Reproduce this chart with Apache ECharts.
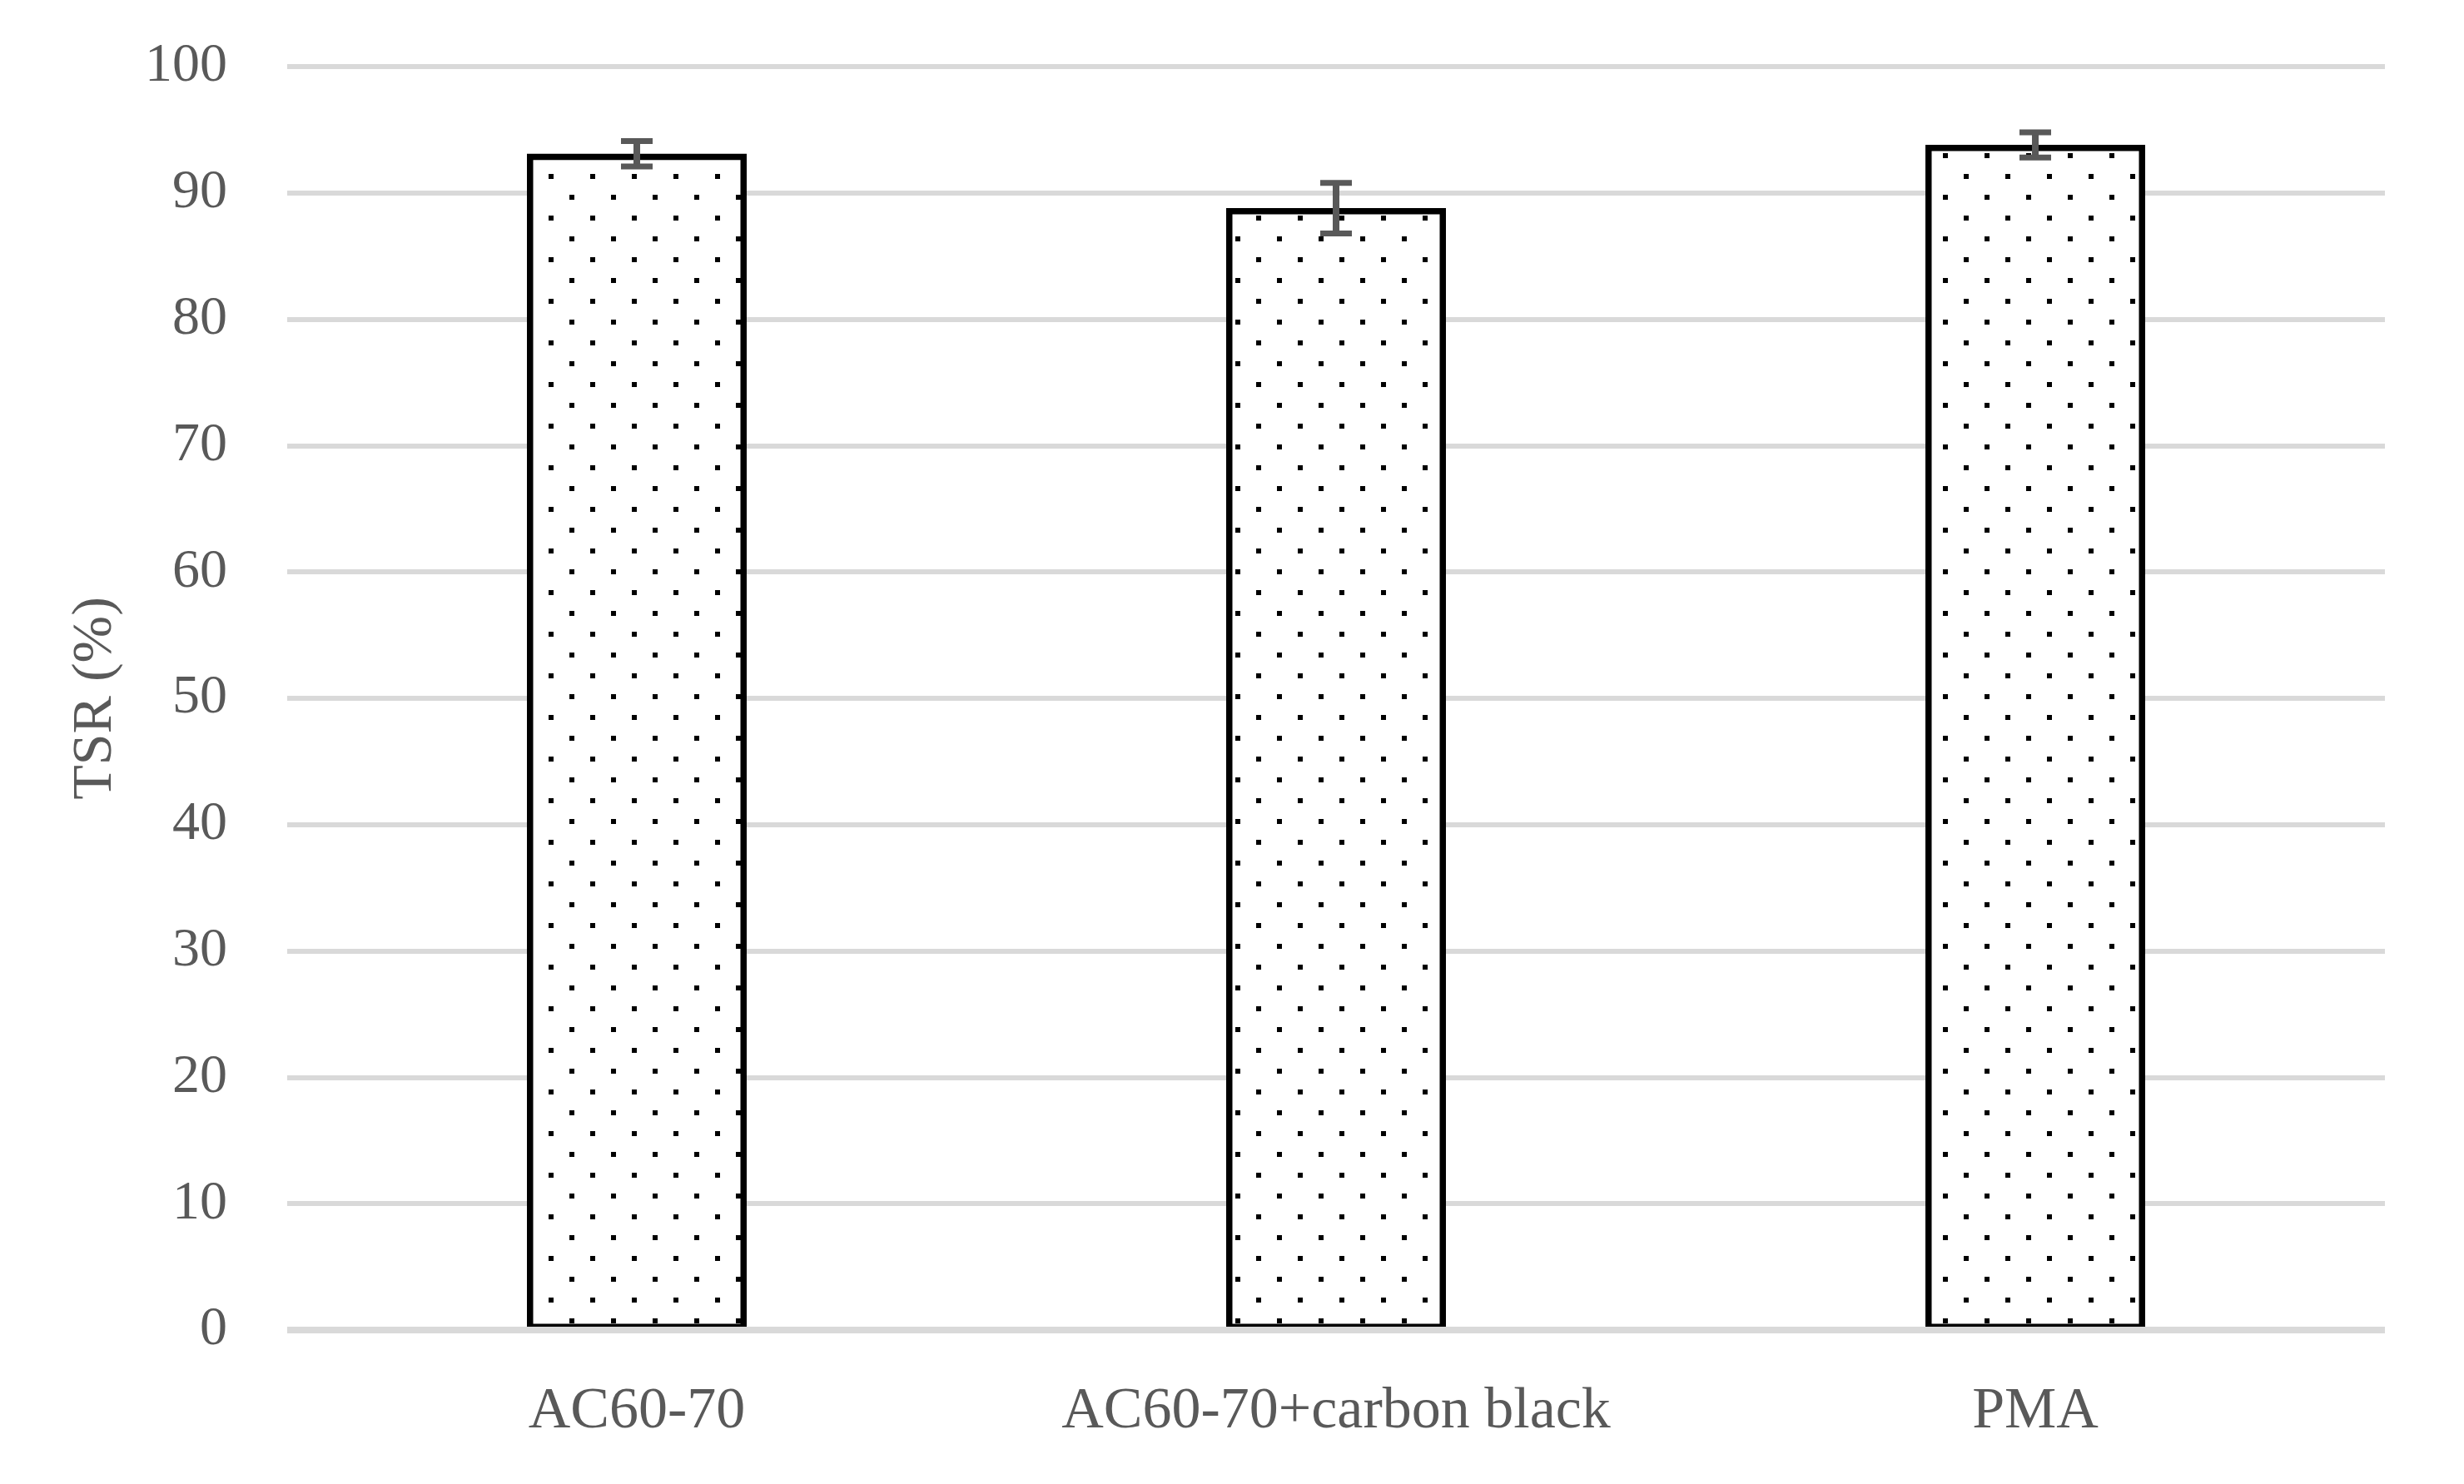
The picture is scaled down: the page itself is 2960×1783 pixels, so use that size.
<!DOCTYPE html>
<html>
<head>
<meta charset="utf-8">
<script src="https://cdn.jsdelivr.net/npm/echarts@6/dist/echarts.min.js"></script>
<style>
  html, body { margin: 0; padding: 0; background: #fff; }
  #chart { width: 2960px; height: 1783px; }
</style>
</head>
<body>
<div id="chart"></div>
<script>
const categories = ['AC60-70', 'AC60-70+carbon black', 'PMA']
const tsrValues = [93.1, 88.8, 93.8]
const tsrErrors = [1.0, 2.0, 1.0]
const yMin = 0
const yMax = 100
const yStep = 10

// dotted fill like the original (staggered black dots on white)
function dotPattern() {
  const c = document.createElement('canvas')
  c.width = 50
  c.height = 50
  const ctx = c.getContext('2d')
  ctx.fillStyle = '#fff'
  ctx.fillRect(0, 0, 50, 50)
  ctx.fillStyle = '#000'
  ctx.fillRect(9, 9, 6, 6)
  ctx.fillRect(34, 34, 6, 6)
  return c
}

const errorData = tsrValues.map((v, i) => [i, v + tsrErrors[i], v - tsrErrors[i]])

const chart = echarts.init(document.getElementById('chart'))
const font = 'Liberation Serif'
const grey = '#595959'

chart.setOption({
  animation: false,
  backgroundColor: '#fff',
  grid: { left: 345, right: 95, top: 80, bottom: 185 },
  xAxis: {
    type: 'category',
    data: categories,
    axisLine: { show: false },
    axisTick: { show: false },
    axisLabel: { interval: 0, color: grey, fontFamily: font, fontSize: 70, margin: 64 }
  },
  yAxis: {
    type: 'value',
    min: yMin,
    max: yMax,
    interval: yStep,
    name: 'TSR (%)',
    nameLocation: 'middle',
    nameRotate: 90,
    nameGap: 196,
    nameTextStyle: { color: grey, fontFamily: font, fontSize: 68 },
    axisLine: { show: false },
    axisTick: { show: false },
    axisLabel: { color: grey, fontFamily: font, fontSize: 66, margin: 72 },
    splitLine: { lineStyle: { color: '#d9d9d9', width: 6 } }
  },
  series: [
    {
      type: 'bar',
      data: tsrValues,
      barWidth: 264,
      itemStyle: {
        color: { image: dotPattern(), repeat: 'repeat' },
        borderColor: '#000',
        borderWidth: 7.5
      },
      z: 2
    },
    {
      type: 'custom',
      data: errorData,
      encode: { x: 0, y: [1, 2] },
      z: 5,
      // baseline gridline sits over the bar bottoms, as in the original
      markLine: {
        silent: true,
        symbol: 'none',
        label: { show: false },
        lineStyle: { color: '#d9d9d9', width: 8, type: 'solid' },
        data: [{ yAxis: 0 }]
      },
      renderItem: (params, api) => {
        const top = api.coord([api.value(0), api.value(1)])
        const bot = api.coord([api.value(0), api.value(2)])
        const half = 19
        const style = { stroke: grey, lineWidth: 7 }
        return {
          type: 'group',
          children: [
            { type: 'line', shape: { x1: top[0], y1: top[1], x2: bot[0], y2: bot[1] }, style: { stroke: grey, lineWidth: 8 } },
            { type: 'line', shape: { x1: top[0] - half, y1: top[1], x2: top[0] + half, y2: top[1] }, style },
            { type: 'line', shape: { x1: bot[0] - half, y1: bot[1], x2: bot[0] + half, y2: bot[1] }, style }
          ]
        }
      }
    }
  ]
})
</script>
</body>
</html>
